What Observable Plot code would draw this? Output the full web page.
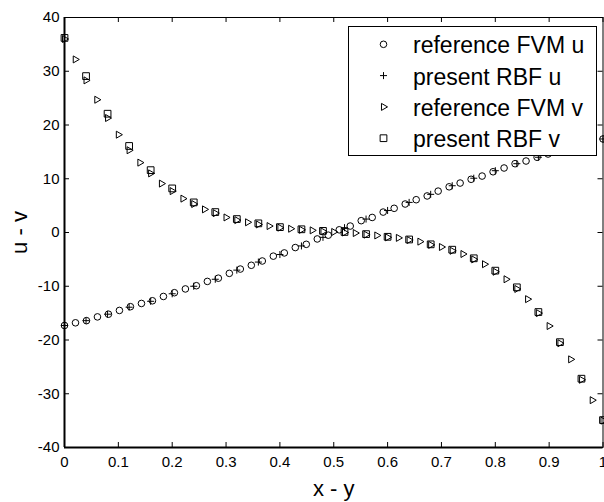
<!DOCTYPE html>
<html><head><meta charset="utf-8">
<script src="https://cdn.jsdelivr.net/npm/d3@7"></script>
<script src="https://cdn.jsdelivr.net/npm/@observablehq/plot@0.6"></script>
<style>
body{margin:0;background:#fff;}
#wrap{position:relative;width:604px;height:502px;overflow:hidden;font-family:"Liberation Sans",Arial,Helvetica,sans-serif;}
#legend{position:absolute;left:348px;top:26px;}
</style>
</head><body>
<div id="wrap"><div id="chart"></div><svg id="legend" width="250" height="131"></svg></div>
<script>
// ---- data ----
const seriesNames = ["reference FVM u", "present RBF u", "reference FVM v", "present RBF v"];

// reference FVM u (circles), 50 points
const xFvmU = [0,0.0204,0.0408,0.0612,0.0816,0.102,0.1224,0.1429,0.1633,0.1837,0.2041,0.2245,0.2449,0.2653,0.2857,0.3061,0.3265,0.3469,0.3673,0.3878,0.4082,0.4286,0.449,0.4694,0.4898,0.5102,0.5306,0.551,0.5714,0.5918,0.6122,0.6327,0.6531,0.6735,0.6939,0.7143,0.7347,0.7551,0.7755,0.7959,0.8163,0.8367,0.8571,0.8776,0.898,0.9184,0.9388,0.9592,0.9796,1];
const uFvm = [-17.3,-16.8,-16.4,-15.7,-15.2,-14.5,-13.8,-13.2,-12.7,-11.9,-11.2,-10.5,-9.9,-9.1,-8.5,-7.6,-6.8,-6.1,-5.3,-4.4,-3.8,-2.8,-2.2,-1.2,-0.5,0.5,1.2,2.2,2.8,3.8,4.5,5.3,6.1,6.8,7.7,8.5,9.2,9.9,10.5,11.3,12.0,12.8,13.3,14.0,14.6,15.2,15.8,16.4,16.9,17.4];

// present RBF u (plus) and present RBF v (squares), 26 points
const xRbf = [0,0.04,0.08,0.12,0.16,0.2,0.24,0.28,0.32,0.36,0.4,0.44,0.48,0.52,0.56,0.6,0.64,0.68,0.72,0.76,0.8,0.84,0.88,0.92,0.96,1];
const uRbf = [-17.3,-16.4,-15.2,-13.9,-12.8,-11.4,-10.0,-8.7,-7.0,-5.5,-4.1,-2.5,-0.9,0.9,2.5,4.1,5.6,7.1,8.7,10.1,11.5,12.8,14.0,15.2,16.4,17.4];
const vRbf = [36.2,29.1,22.1,16.1,11.6,8.2,5.6,3.8,2.5,1.7,1.0,0.6,0.3,0.1,-0.3,-0.8,-1.3,-2.2,-3.2,-4.8,-7.1,-10.2,-14.8,-20.4,-27.2,-34.9];

// reference FVM v (right triangles), 51 points
const xFvmV = [0,0.02,0.04,0.06,0.08,0.1,0.12,0.14,0.16,0.18,0.2,0.22,0.24,0.26,0.28,0.3,0.32,0.34,0.36,0.38,0.4,0.42,0.44,0.46,0.48,0.5,0.52,0.54,0.56,0.58,0.6,0.62,0.64,0.66,0.68,0.7,0.72,0.74,0.76,0.78,0.8,0.82,0.84,0.86,0.88,0.9,0.92,0.94,0.96,0.98,1];
const vFvm = [36.0,32.2,28.3,24.7,21.3,18.2,15.3,13.0,11.0,9.1,7.7,6.3,5.3,4.3,3.6,2.8,2.3,1.9,1.5,1.2,0.9,0.7,0.5,0.4,0.2,0.1,0.0,-0.1,-0.4,-0.55,-0.9,-1.0,-1.4,-1.7,-2.3,-2.7,-3.4,-4.0,-5.0,-5.9,-7.3,-8.7,-10.5,-12.4,-15.0,-17.4,-20.6,-23.6,-27.4,-31.2,-35.0];

// axes
const xTicks = [0,0.1,0.2,0.3,0.4,0.5,0.6,0.7,0.8,0.9,1];
const yTicks = [-40,-30,-20,-10,0,10,20,30,40];
const xLabel = "x - y";
const yLabel = "u - v";

// ---- layout ----
const W = 604, H = 502, mL = 64, mR = 1.5, mT = 17, mB = 55;
const frameW = W - mL - mR, frameH = H - mT - mB, tk = 5;
const sym = {circle: 3.3, plus: 2.4, tri: 2.6, square: 3.8};
const dotStyle = {stroke: "#000", fill: "none", strokeWidth: 1};

const chart = Plot.plot({
  width: W, height: H,
  marginLeft: mL, marginRight: mR, marginTop: mT, marginBottom: mB,
  style: {fontFamily: "'Liberation Sans', Arial, Helvetica, sans-serif", fontSize: "15px", color: "#000", background: "#fff", overflow: "visible"},
  x: {domain: [xTicks[0], xTicks[xTicks.length - 1]]},
  y: {domain: [yTicks[0], yTicks[yTicks.length - 1]]},
  marks: [
    Plot.axisX(xTicks, {tickSize: 0, tickPadding: 9, tickFormat: d => String(d), label: null, fontSize: 15}),
    Plot.axisY(yTicks, {tickSize: 0, tickPadding: 5, tickFormat: d => String(d), label: null, fontSize: 15}),
    Plot.ruleX(xTicks, {x: d => d, insetTop: frameH - tk, stroke: "#000"}),
    Plot.ruleX(xTicks, {x: d => d, insetBottom: frameH - tk, stroke: "#000"}),
    Plot.ruleY(yTicks, {y: d => d, insetRight: frameW - tk, stroke: "#000"}),
    Plot.ruleY(yTicks, {y: d => d, insetLeft: frameW - tk, stroke: "#000"}),
    Plot.frame({stroke: "#000", strokeWidth: 1}),
    Plot.ruleX([xTicks[0]], {x: d => d, stroke: "#000", strokeWidth: 2}),
    Plot.ruleY([yTicks[0]], {y: d => d, stroke: "#000", strokeWidth: 2}),
    Plot.dot(uFvm, {x: xFvmU, y: uFvm, symbol: "circle", r: sym.circle, ...dotStyle}),
    Plot.dot(uRbf, {x: xRbf, y: uRbf, symbol: "plus", r: sym.plus, ...dotStyle}),
    Plot.dot(vFvm, {x: xFvmV, y: vFvm, symbol: "triangle", rotate: 90, r: sym.tri, ...dotStyle}),
    Plot.dot(vRbf, {x: xRbf, y: vRbf, symbol: "square", r: sym.square, ...dotStyle}),
    Plot.text([xLabel], {frameAnchor: "bottom", lineAnchor: "middle", textAnchor: "middle", dy: 41, fontSize: 22, fill: "#000"}),
    Plot.text([yLabel], {frameAnchor: "left", lineAnchor: "middle", textAnchor: "middle", dx: -45, rotate: -90, fontSize: 22, fill: "#000"})
  ]
});
document.getElementById("chart").appendChild(chart);

// ---- legend (inside the axes, top right) ----
const lg = d3.select("#legend");
lg.append("rect").attr("x", 0.5).attr("y", 0.5).attr("width", 248).attr("height", 129)
  .attr("fill", "#fff").attr("stroke", "#000").attr("stroke-width", 1);
const legSyms = [
  {type: d3.symbolCircle, r: sym.circle, rot: 0},
  {type: d3.symbolPlus, r: sym.plus, rot: 0},
  {type: d3.symbolTriangle, r: sym.tri, rot: 90},
  {type: d3.symbolSquare, r: sym.square, rot: 0}
];
seriesNames.forEach((name, i) => {
  const cy = 18.3 + 31.3 * i;
  const s = legSyms[i];
  lg.append("path")
    .attr("d", d3.symbol(s.type, Math.PI * s.r * s.r)())
    .attr("transform", `translate(35.5,${cy}) rotate(${s.rot})`)
    .attr("fill", "none").attr("stroke", "#000").attr("stroke-width", 1);
  lg.append("text").attr("x", 65).attr("y", cy + 9)
    .attr("font-family", "'Liberation Sans', Arial, Helvetica, sans-serif")
    .attr("font-size", 23).attr("fill", "#000").text(name);
});
</script>
</body></html>
